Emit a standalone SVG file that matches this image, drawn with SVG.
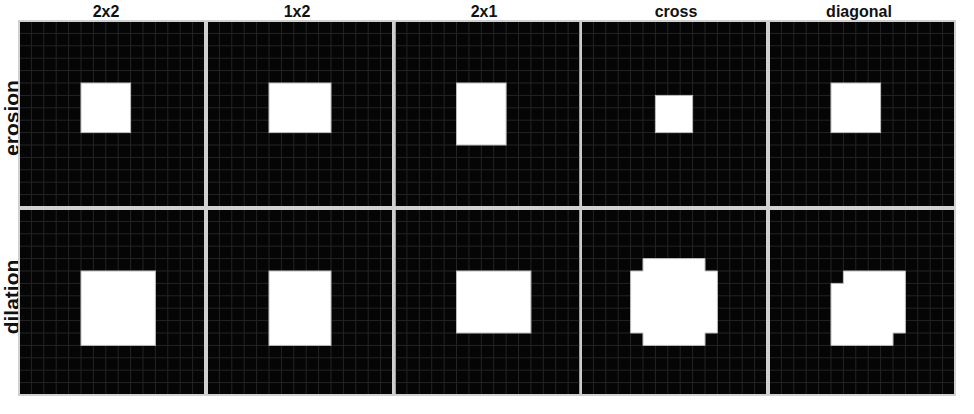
<svg xmlns="http://www.w3.org/2000/svg" xmlns:xlink="http://www.w3.org/1999/xlink" width="974" height="414" viewBox="0 0 974 414">
<style>
  .title { font-family: "Liberation Sans", Arial, sans-serif; font-weight: bold; font-size: 16px; fill: #111; text-anchor: middle; }
  .rowlab { font-family: "Liberation Sans", Arial, sans-serif; font-weight: bold; font-size: 21px; fill: #111; text-anchor: middle; }
  .frame { fill: none; stroke: #cccccc; stroke-width: 1.8; }
  .on { fill: #ffffff; stroke: #bdbdbd; stroke-width: 1; }
</style>
<defs>
  <g id="grid">
    <rect x="1" y="1" width="184" height="184" fill="#050505"/>
    <path d="M12.4 1V185M24.8 1V185M37.2 1V185M49.6 1V185M62 1V185M74.4 1V185M86.8 1V185M99.2 1V185M111.6 1V185M124 1V185M136.4 1V185M148.8 1V185M161.2 1V185M173.6 1V185M1 12.4H185M1 24.8H185M1 37.2H185M1 49.6H185M1 62H185M1 74.4H185M1 86.8H185M1 99.2H185M1 111.6H185M1 124H185M1 136.4H185M1 148.8H185M1 161.2H185M1 173.6H185" stroke="#242424" stroke-width="1" fill="none"/>
    <rect class="frame" x="0" y="0" width="186" height="186"/>
  </g>
</defs>
<rect width="974" height="414" fill="#ffffff"/>

<g id="titles">
  <text class="title" x="106" y="17">2x2</text>
  <text class="title" x="297" y="17">1x2</text>
  <text class="title" x="484" y="17">2x1</text>
  <text class="title" x="676" y="17">cross</text>
  <text class="title" x="859" y="17">diagonal</text>
  <text class="rowlab" transform="translate(19,118) rotate(-90)">erosion</text>
  <text class="rowlab" transform="translate(19,297) rotate(-90)">dilation</text>
</g>

<g id="erosion-2x2" transform="translate(19,21)">
  <use xlink:href="#grid" href="#grid"/>
  <rect class="on" x="62" y="62" width="49.6" height="49.6"/>
</g>
<g id="erosion-1x2" transform="translate(207,21)">
  <use xlink:href="#grid" href="#grid"/>
  <rect class="on" x="62" y="62" width="62" height="49.6"/>
</g>
<g id="erosion-2x1" transform="translate(394.5,21)">
  <use xlink:href="#grid" href="#grid"/>
  <rect class="on" x="62" y="62" width="49.6" height="62"/>
</g>
<g id="erosion-cross" transform="translate(581,21)">
  <use xlink:href="#grid" href="#grid"/>
  <rect class="on" x="74.4" y="74.4" width="37.2" height="37.2"/>
</g>
<g id="erosion-diagonal" transform="translate(769,21)">
  <use xlink:href="#grid" href="#grid"/>
  <rect class="on" x="62" y="62" width="49.6" height="49.6"/>
</g>

<g id="dilation-2x2" transform="translate(19,209)">
  <use xlink:href="#grid" href="#grid"/>
  <rect class="on" x="62" y="62" width="74.4" height="74.4"/>
</g>
<g id="dilation-1x2" transform="translate(207,209)">
  <use xlink:href="#grid" href="#grid"/>
  <rect class="on" x="62" y="62" width="62" height="74.4"/>
</g>
<g id="dilation-2x1" transform="translate(394.5,209)">
  <use xlink:href="#grid" href="#grid"/>
  <rect class="on" x="62" y="62" width="74.4" height="62"/>
</g>
<g id="dilation-cross" transform="translate(581,209)">
  <use xlink:href="#grid" href="#grid"/>
  <path class="on" d="M62 49.6H124V62H136.4V124H124V136.4H62V124H49.6V62H62Z"/>
</g>
<g id="dilation-diagonal" transform="translate(769,209)">
  <use xlink:href="#grid" href="#grid"/>
  <path class="on" d="M74.4 62H136.4V124H124V136.4H62V74.4H74.4Z"/>
</g>

<g id="connectors"/>
</svg>
